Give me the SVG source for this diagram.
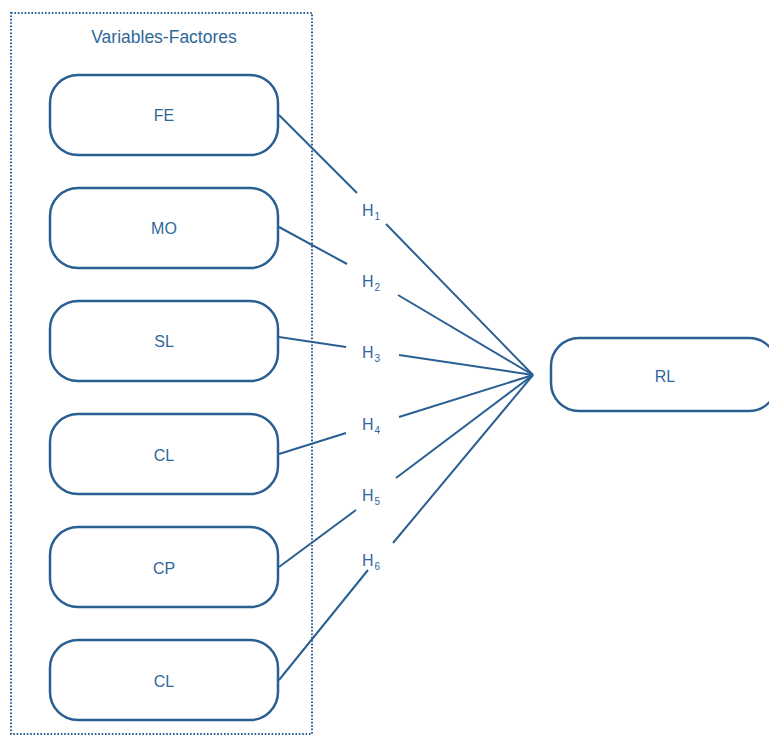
<svg xmlns="http://www.w3.org/2000/svg" width="769" height="736" viewBox="0 0 769 736">
<style>
.box{fill:#fff;stroke:#2a5f92;stroke-width:2.5}
.lbl{font-family:"Liberation Sans",Arial,sans-serif;font-size:16px;fill:#2f679b;text-anchor:middle}
.h{font-family:"Liberation Sans",Arial,sans-serif;font-size:16px;fill:#2f679b}
.sub{font-size:10px}
.ln{stroke:#2a5f92;stroke-width:2;fill:none}
</style>
<rect width="769" height="736" fill="#fff"/>
<g id="group-variables">
<rect x="11" y="13" width="301" height="721" fill="none" stroke="#2a5f92" stroke-width="2" stroke-dasharray="1.6 1.8"/>
<text x="164" y="43" class="lbl" style="font-size:17.5px">Variables-Factores</text>
</g>
<g id="connectors">
<polyline class="ln" points="279,115 357,193"/>
<polyline class="ln" points="386,224 533,375"/>
<polyline class="ln" points="279,227 347,264"/>
<polyline class="ln" points="398,295 533,375"/>
<polyline class="ln" points="279,337 346,347"/>
<polyline class="ln" points="399,355 533,375"/>
<polyline class="ln" points="279,454 346,433"/>
<polyline class="ln" points="399,417 533,375"/>
<polyline class="ln" points="279,567 356,510"/>
<polyline class="ln" points="396,478 533,375"/>
<polyline class="ln" points="279,680 368,570"/>
<polyline class="ln" points="393,543 533,375"/>
<text class="h" x="362" y="216">H<tspan class="sub" dx="1" dy="4">1</tspan></text>
<text class="h" x="362" y="287">H<tspan class="sub" dx="1" dy="4">2</tspan></text>
<text class="h" x="362" y="358">H<tspan class="sub" dx="1" dy="4">3</tspan></text>
<text class="h" x="362" y="430">H<tspan class="sub" dx="1" dy="4">4</tspan></text>
<text class="h" x="362" y="501">H<tspan class="sub" dx="1" dy="4">5</tspan></text>
<text class="h" x="362" y="566">H<tspan class="sub" dx="1" dy="4">6</tspan></text>
</g>
<g id="node-FE"><rect class="box" x="50" y="75" width="228" height="80" rx="28"/><text class="lbl" x="164" y="121">FE</text></g>
<g id="node-MO"><rect class="box" x="50" y="188" width="228" height="80" rx="28"/><text class="lbl" x="164" y="234">MO</text></g>
<g id="node-SL"><rect class="box" x="50" y="301" width="228" height="80" rx="28"/><text class="lbl" x="164" y="347">SL</text></g>
<g id="node-CL1"><rect class="box" x="50" y="414" width="228" height="80" rx="28"/><text class="lbl" x="164" y="461">CL</text></g>
<g id="node-CP"><rect class="box" x="50" y="527" width="228" height="80" rx="28"/><text class="lbl" x="164" y="574">CP</text></g>
<g id="node-CL2"><rect class="box" x="50" y="640" width="228" height="80" rx="28"/><text class="lbl" x="164" y="687">CL</text></g>
<g id="node-RL"><rect class="box" x="551" y="338" width="226" height="73" rx="28"/><text class="lbl" x="665" y="382">RL</text></g>
</svg>
